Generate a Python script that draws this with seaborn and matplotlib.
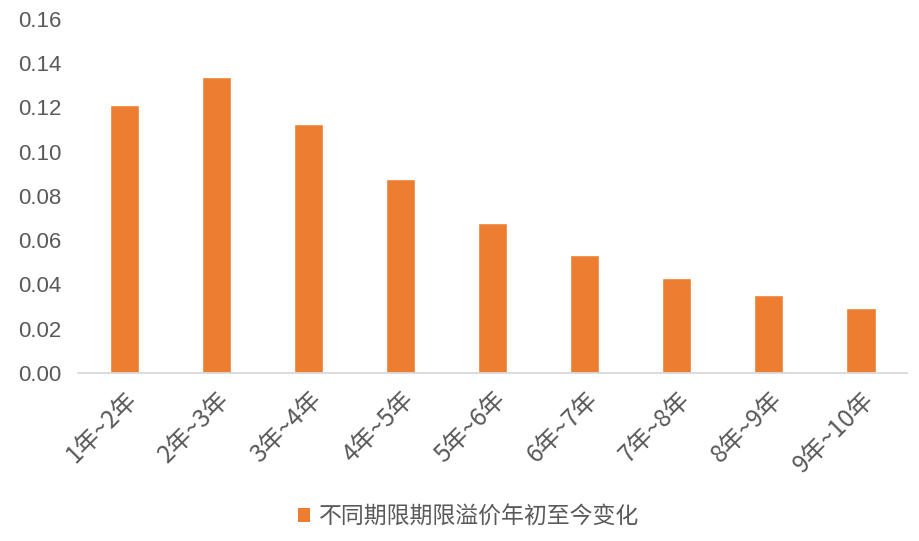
import matplotlib
matplotlib.use("Agg")
import matplotlib.pyplot as plt
import seaborn as sns
import pandas as pd
from matplotlib.patches import Patch

# data
categories = ["1年~2年", "2年~3年", "3年~4年", "4年~5年", "5年~6年",
              "6年~7年", "7年~8年", "8年~9年", "9年~10年"]
values = [0.1212, 0.1338, 0.1126, 0.0878, 0.0679, 0.0534, 0.0430, 0.0353, 0.0294]
series_name = "不同期限期限溢价年初至今变化"

bar_color = "#ED7D31"
text_color = "#595959"

sns.set_theme(style="white")
plt.rcParams['font.family'] = ['Liberation Sans', 'Noto Sans CJK SC', 'DejaVu Sans']

df = pd.DataFrame({"期限": categories, "变化": values})

fig = plt.figure(figsize=(9.19, 5.41), dpi=100)
ax = fig.add_axes([0.085, 0.3105, 0.902, 0.6545])

sns.barplot(data=df, x="期限", y="变化", color=bar_color, saturation=1,
            width=0.315, ax=ax)

ax.set_ylim(0, 0.16)
ax.set_xlim(-0.5, len(categories) - 0.5)
ax.set_yticks([i * 0.02 for i in range(9)])
ax.set_yticklabels([f"{i * 0.02:.2f}" for i in range(9)])
ax.set_xlabel("")
ax.set_ylabel("")

for s in ["top", "right", "left"]:
    ax.spines[s].set_visible(False)
ax.spines["bottom"].set_color("#D9D9D9")
ax.spines["bottom"].set_linewidth(1.3)

ax.tick_params(axis="y", length=0, labelsize=16, labelcolor=text_color, pad=12)
ax.tick_params(axis="x", length=0, labelsize=16, labelcolor=text_color, pad=10)
for lbl in ax.get_xticklabels():
    lbl.set_rotation(45)
    lbl.set_ha("right")
    lbl.set_rotation_mode("anchor")
    lbl.set_family(['Noto Sans CJK SC', 'DejaVu Sans'])
    lbl.set_fontsize(17.5)
    lbl.set_fontweight("light")

handles = [Patch(facecolor=bar_color, edgecolor="none", label=series_name)]
fig.legend(handles=handles, loc="center", bbox_to_anchor=(0.51, 0.045),
           frameon=False, labelcolor=text_color,
           prop={'family': ['Noto Sans CJK SC', 'DejaVu Sans'], 'size': 16.5},
           handlelength=0.55, handleheight=0.55, handletextpad=0.4)

fig.savefig("out.png", dpi=100)
